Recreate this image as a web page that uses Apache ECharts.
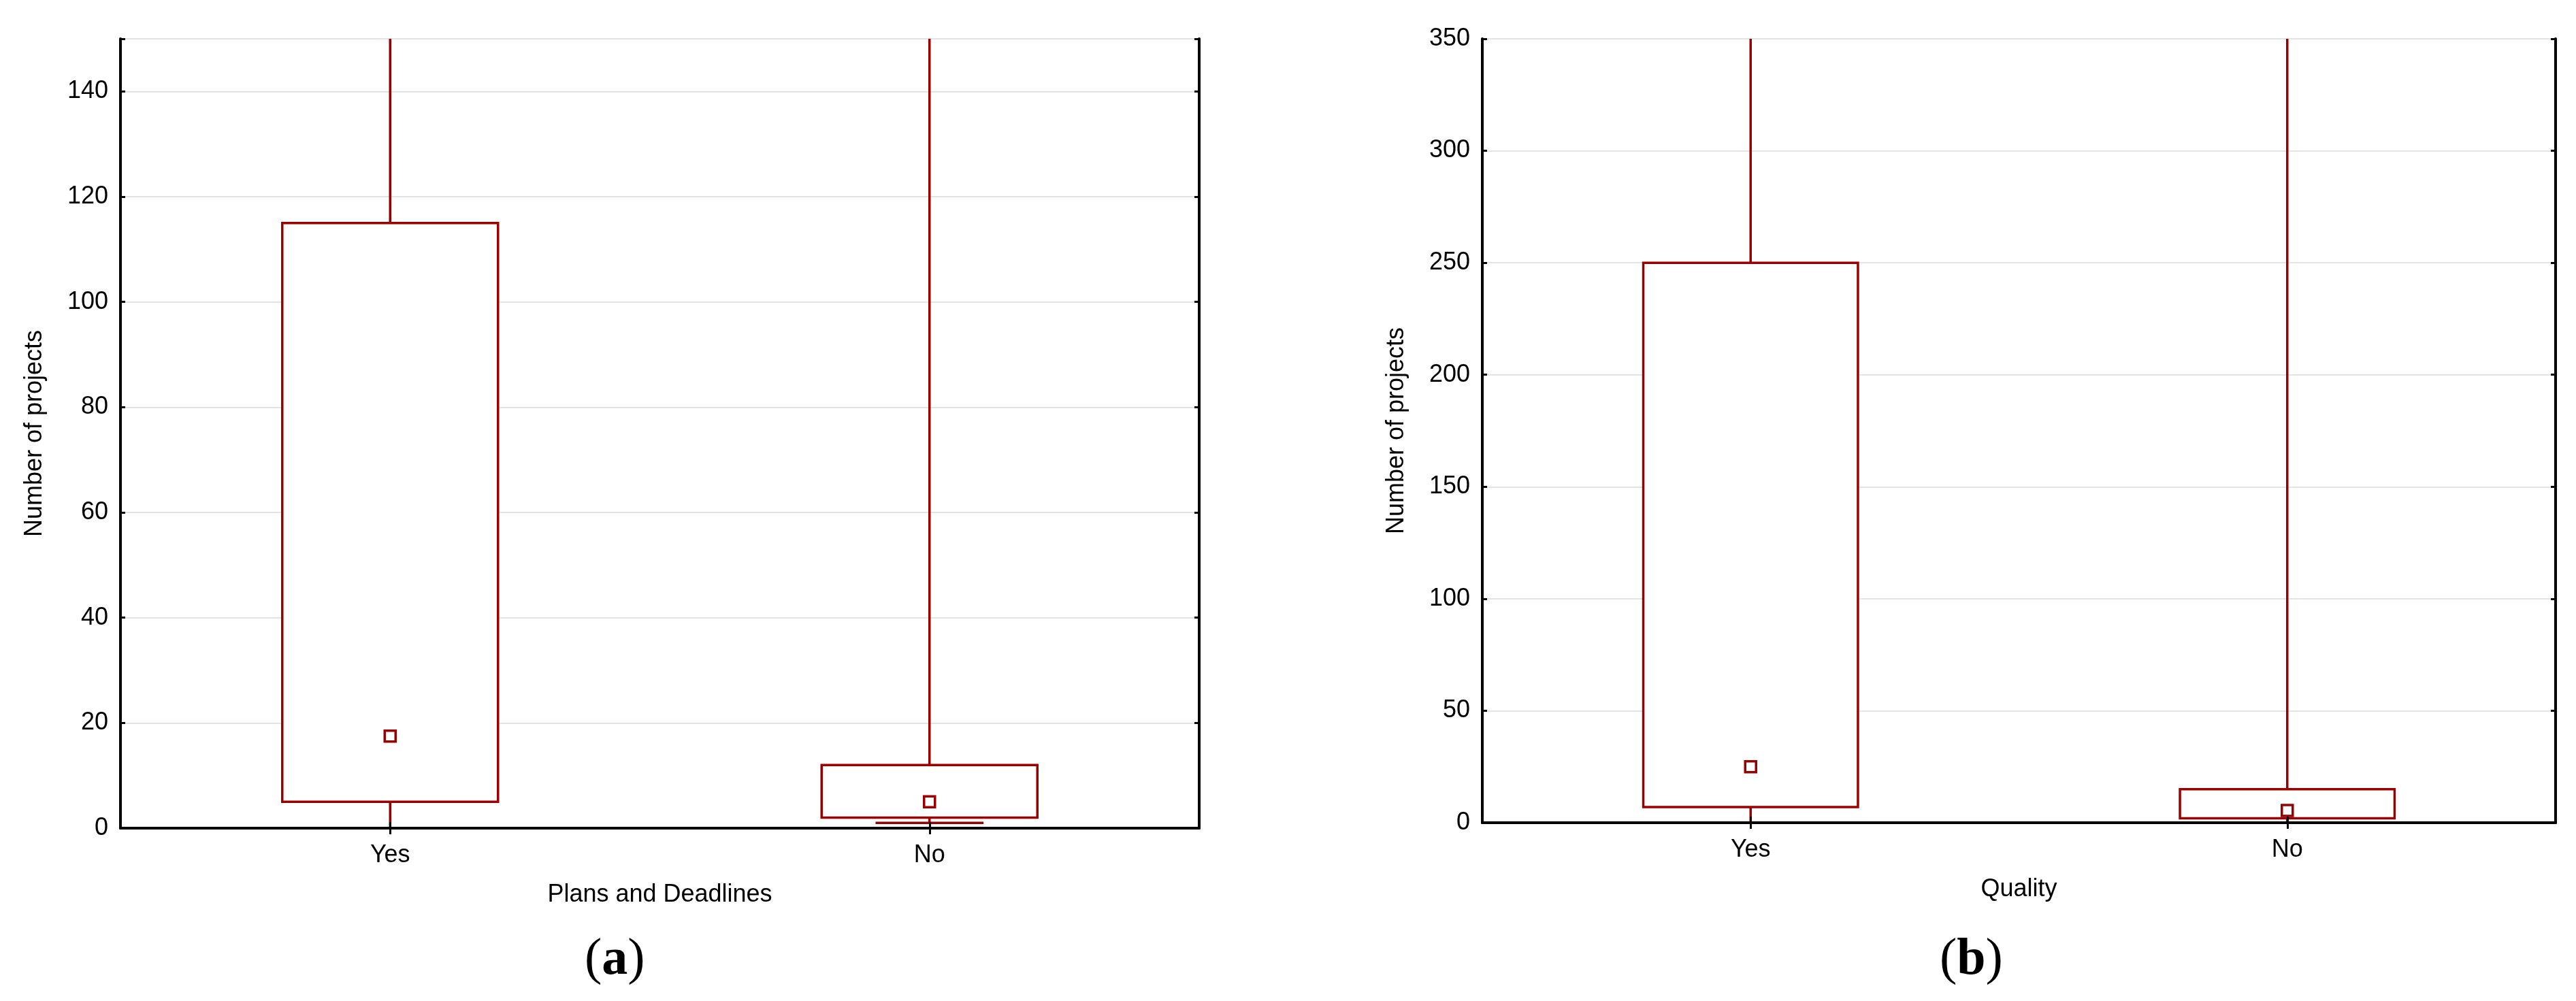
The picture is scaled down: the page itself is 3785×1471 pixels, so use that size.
<!DOCTYPE html>
<html>
<head>
<meta charset="utf-8">
<script src="https://cdn.jsdelivr.net/npm/echarts@6/dist/echarts.min.js"></script>
<style>
html,body{margin:0;padding:0;background:#fff;}
#chart{width:3785px;height:1471px;}
</style>
</head>
<body>
<div id="chart"></div>
<script>
// ---- data ----
const categories = ['Yes', 'No'];

// (a) Plans and Deadlines
const aMin    = [0, 1];
const aQ1     = [5, 2];
const aMedian = [17.5, 5];
const aQ3     = [115, 12];
const aMax    = [150, 150];
const aAxisMax = 150;
const aInterval = 20;

// (b) Quality
const bMin    = [0, 0];
const bQ1     = [7, 2];
const bMedian = [25, 5.5];
const bQ3     = [250, 15];
const bMax    = [350, 350];
const bAxisMax = 350;
const bInterval = 50;

const yTitle = 'Number of projects';
const xTitleA = 'Plans and Deadlines';
const xTitleB = 'Quality';

// ---- styling ----
const RED = '#990000';
const FONT = "'Liberation Sans', Arial, sans-serif";
const FS = 36;

function build(mins, q1, med, q3, maxs) {
  return categories.map((c, i) => [i, mins[i], q1[i], med[i], q3[i], maxs[i]]);
}

function renderBox(params, api) {
  const x = api.value(0);
  const cMin = api.coord([x, api.value(1)]);
  const cQ1 = api.coord([x, api.value(2)]);
  const cMed = api.coord([x, api.value(3)]);
  const cQ3 = api.coord([x, api.value(4)]);
  const cMax = api.coord([x, api.value(5)]);
  const band = api.size([1, 0])[0];
  const half = band * 0.2;
  const cx = cQ1[0];
  const lw = 3.5;
  const st = { stroke: RED, lineWidth: lw, fill: null };
  const sq = 16;
  return {
    type: 'group',
    children: [
      { type: 'line', shape: { x1: cx, y1: cQ3[1], x2: cx, y2: cMax[1] }, style: st },
      { type: 'line', shape: { x1: cx, y1: cQ1[1], x2: cx, y2: cMin[1] }, style: st },
      { type: 'line', shape: { x1: cx - half / 2, y1: cMin[1], x2: cx + half / 2, y2: cMin[1] }, style: st },
      { type: 'rect', shape: { x: cx - half, y: cQ3[1], width: 2 * half, height: cQ1[1] - cQ3[1] },
        style: { stroke: RED, lineWidth: lw, fill: '#ffffff' } },
      { type: 'rect', shape: { x: cx - sq / 2, y: cMed[1] - sq / 2, width: sq, height: sq },
        style: { stroke: RED, lineWidth: lw, fill: '#ffffff' } }
    ]
  };
}

function xAxes(gridIndex, title) {
  return [
    {
      type: 'category', gridIndex, data: categories, position: 'bottom', z: 10,
      axisLine: { lineStyle: { color: '#000', width: 4 } },
      axisTick: { show: true, inside: true, alignWithLabel: true, length: 9, lineStyle: { color: '#000', width: 3 } },
      axisLabel: { color: '#000', fontFamily: FONT, fontSize: FS, margin: 22 },
      name: title, nameLocation: 'middle', nameGap: 80,
      nameTextStyle: { color: '#000', fontFamily: FONT, fontSize: FS },
      splitLine: { show: false }
    },
    {
      type: 'category', gridIndex, data: categories, position: 'top', z: 10,
      axisLine: { lineStyle: { color: '#000', width: 4 } },
      axisTick: { show: true, inside: true, alignWithLabel: true, length: 9, lineStyle: { color: '#000', width: 3 } },
      axisLabel: { show: false },
      splitLine: { show: false }
    }
  ];
}

function yAxes(gridIndex, max, interval, hideMax) {
  return [
    {
      type: 'value', gridIndex, min: 0, max, interval, position: 'left',
      axisLine: { show: true, lineStyle: { color: '#000', width: 4 } },
      axisTick: { show: true, inside: true, length: 7, lineStyle: { color: '#000', width: 3 } },
      axisLabel: { color: '#000', fontFamily: FONT, fontSize: FS, margin: 18,
        formatter: v => (hideMax && v === max) ? '' : String(v) },
      splitLine: { show: true, lineStyle: { color: '#e4e4e4', width: 2 } },
      name: yTitle, nameLocation: 'middle', nameGap: 108, nameRotate: 90,
      nameTextStyle: { color: '#000', fontFamily: FONT, fontSize: FS }
    },
    {
      type: 'value', gridIndex, min: 0, max, interval, position: 'right', z: 10,
      axisLine: { show: true, lineStyle: { color: '#000', width: 4 } },
      axisTick: { show: true, inside: true, length: 7, lineStyle: { color: '#000', width: 3 } },
      axisLabel: { show: false },
      splitLine: { show: false }
    }
  ];
}

const chart = echarts.init(document.getElementById('chart'), null, { renderer: 'canvas' });
chart.setOption({
  backgroundColor: '#ffffff',
  animation: false,
  grid: [
    { left: 177, top: 57, width: 1585, height: 1160 },
    { left: 2178, top: 57, width: 1577, height: 1152 }
  ],
  xAxis: [...xAxes(0, xTitleA), ...xAxes(1, xTitleB)],
  yAxis: [...yAxes(0, aAxisMax, aInterval, true), ...yAxes(1, bAxisMax, bInterval, false)],
  series: [
    { type: 'custom', xAxisIndex: 0, yAxisIndex: 0, renderItem: renderBox,
      encode: { x: 0, y: [1, 2, 3, 4, 5] }, data: build(aMin, aQ1, aMedian, aQ3, aMax), z: 2 },
    { type: 'custom', xAxisIndex: 2, yAxisIndex: 2, renderItem: renderBox,
      encode: { x: 0, y: [1, 2, 3, 4, 5] }, data: build(bMin, bQ1, bMedian, bQ3, bMax), z: 2 }
  ],
  graphic: [
    { type: 'text', left: 905 - 46, top: 1373,
      style: { text: '{p|(}{b|a}{p|)}', rich: {
        p: { fontFamily: "'Liberation Serif', 'Times New Roman', serif", fontSize: 76, fill: '#000' },
        b: { fontFamily: "'Liberation Serif', 'Times New Roman', serif", fontSize: 76, fontWeight: 'bold', fill: '#000' } } } },
    { type: 'text', left: 2897 - 47, top: 1373,
      style: { text: '{p|(}{b|b}{p|)}', rich: {
        p: { fontFamily: "'Liberation Serif', 'Times New Roman', serif", fontSize: 76, fill: '#000' },
        b: { fontFamily: "'Liberation Serif', 'Times New Roman', serif", fontSize: 76, fontWeight: 'bold', fill: '#000' } } } }
  ]
});
</script>
</body>
</html>
